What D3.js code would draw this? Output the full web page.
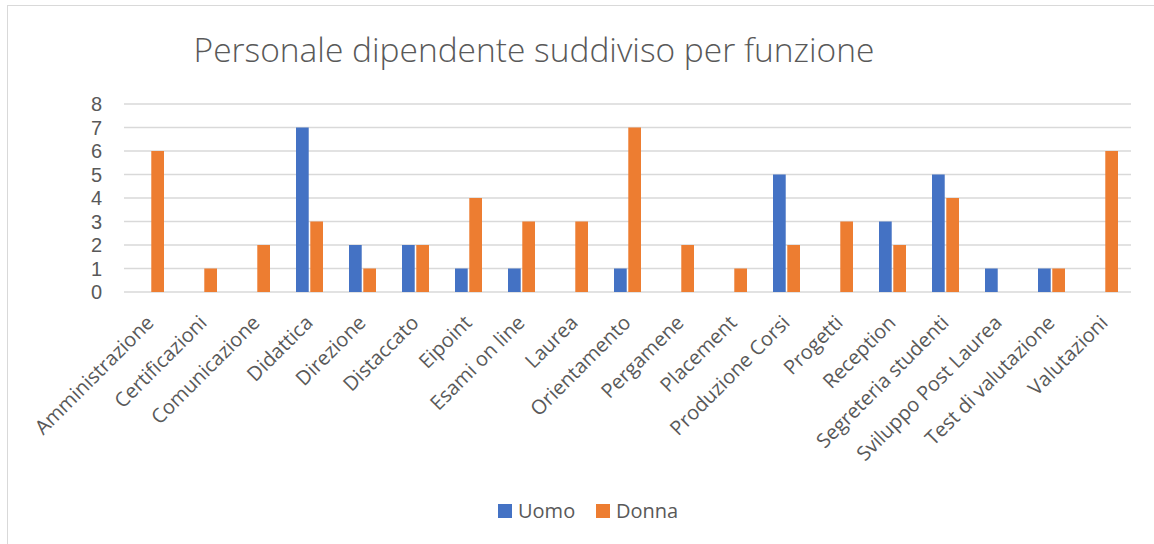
<!DOCTYPE html>
<html><head><meta charset="utf-8">
<script src="https://cdn.jsdelivr.net/npm/d3@7"></script>
<style>body{margin:0;background:#fff;} svg{display:block;font-family:"Open Sans",sans-serif;}</style>
</head><body>
<svg id="c" width="1154" height="544"></svg>
<script>
const categories = ["Amministrazione","Certificazioni","Comunicazione","Didattica","Direzione","Distaccato","Eipoint","Esami on line","Laurea","Orientamento","Pergamene","Placement","Produzione Corsi","Progetti","Reception","Segreteria studenti","Sviluppo Post Laurea","Test di valutazione","Valutazioni"];
const uomo  = [0,0,0,7,2,2,1,1,0,1,0,0,5,0,3,5,1,1,0];
const donna = [6,1,2,3,1,2,4,3,3,7,2,1,2,3,2,4,0,1,6];
const seriesNames = ["Uomo","Donna"];
const yTicks = [0,1,2,3,4,5,6,7,8];
const title = "Personale dipendente suddiviso per funzione";

(function(){
const colors = ["#4472C4","#ED7D31"];
const svg = d3.select("#c");
const txt = "#595959";

// chart border
svg.append("rect").attr("x",7.5).attr("y",5.5).attr("width",1160).attr("height",560)
  .attr("fill","none").attr("stroke","#d9d9d9").attr("stroke-width",1);

const pl=124, pr=1131, pt=104, pb=292;
const x = d3.scaleBand().domain(categories).range([pl,pr]);
const y = d3.scaleLinear().domain([0,8]).range([pb,pt]);
const x1 = d3.scaleBand().domain(seriesNames).range([0,27]).paddingInner(0.11);

// gridlines
svg.append("g").selectAll("line").data(yTicks).join("line")
  .attr("x1",pl).attr("x2",pr).attr("y1",d=>y(d)).attr("y2",d=>y(d))
  .attr("stroke","#d9d9d9").attr("stroke-width",1.5);

// y labels
svg.append("g").selectAll("text").data(yTicks).join("text")
  .attr("x",102).attr("y",d=>y(d)).attr("dy","0.36em").attr("text-anchor","end")
  .attr("fill",txt).attr("font-size",20).attr("font-family","'Liberation Sans',Arial,sans-serif").text(d=>d);

// bars
const data = categories.map((c,i)=>({c, vals:[uomo[i],donna[i]]}));
const g = svg.append("g");
data.forEach(d=>{
  d.vals.forEach((v,j)=>{
    if(v<=0) return;
    g.append("rect")
      .attr("x", x(d.c)+x.bandwidth()/2-13.5+x1(seriesNames[j]))
      .attr("width", x1.bandwidth())
      .attr("y", y(v)).attr("height", y(0)-y(v))
      .attr("fill", colors[j]);
  });
});

// x labels
svg.append("g").selectAll("text").data(categories).join("text")
  .attr("transform",d=>`translate(${x(d)+x.bandwidth()/2+4.5},${324}) rotate(-45)`)
  .attr("text-anchor","end")
  .attr("fill",txt).attr("font-size",20).text(d=>d);

// title
svg.append("text").attr("x",534).attr("y",62).attr("text-anchor","middle")
  .attr("fill",txt).attr("font-size",33.5).attr("font-weight",300).text(title);

// legend
const lg = svg.append("g");
const legX=[498,596];
seriesNames.forEach((s,j)=>{
  lg.append("rect").attr("x",legX[j]).attr("y",504).attr("width",14).attr("height",14).attr("fill",colors[j]);
  lg.append("text").attr("x",legX[j]+20).attr("y",511).attr("dy","0.36em")
    .attr("fill",txt).attr("font-size",20).text(s);
});
})();
</script>
</body></html>
